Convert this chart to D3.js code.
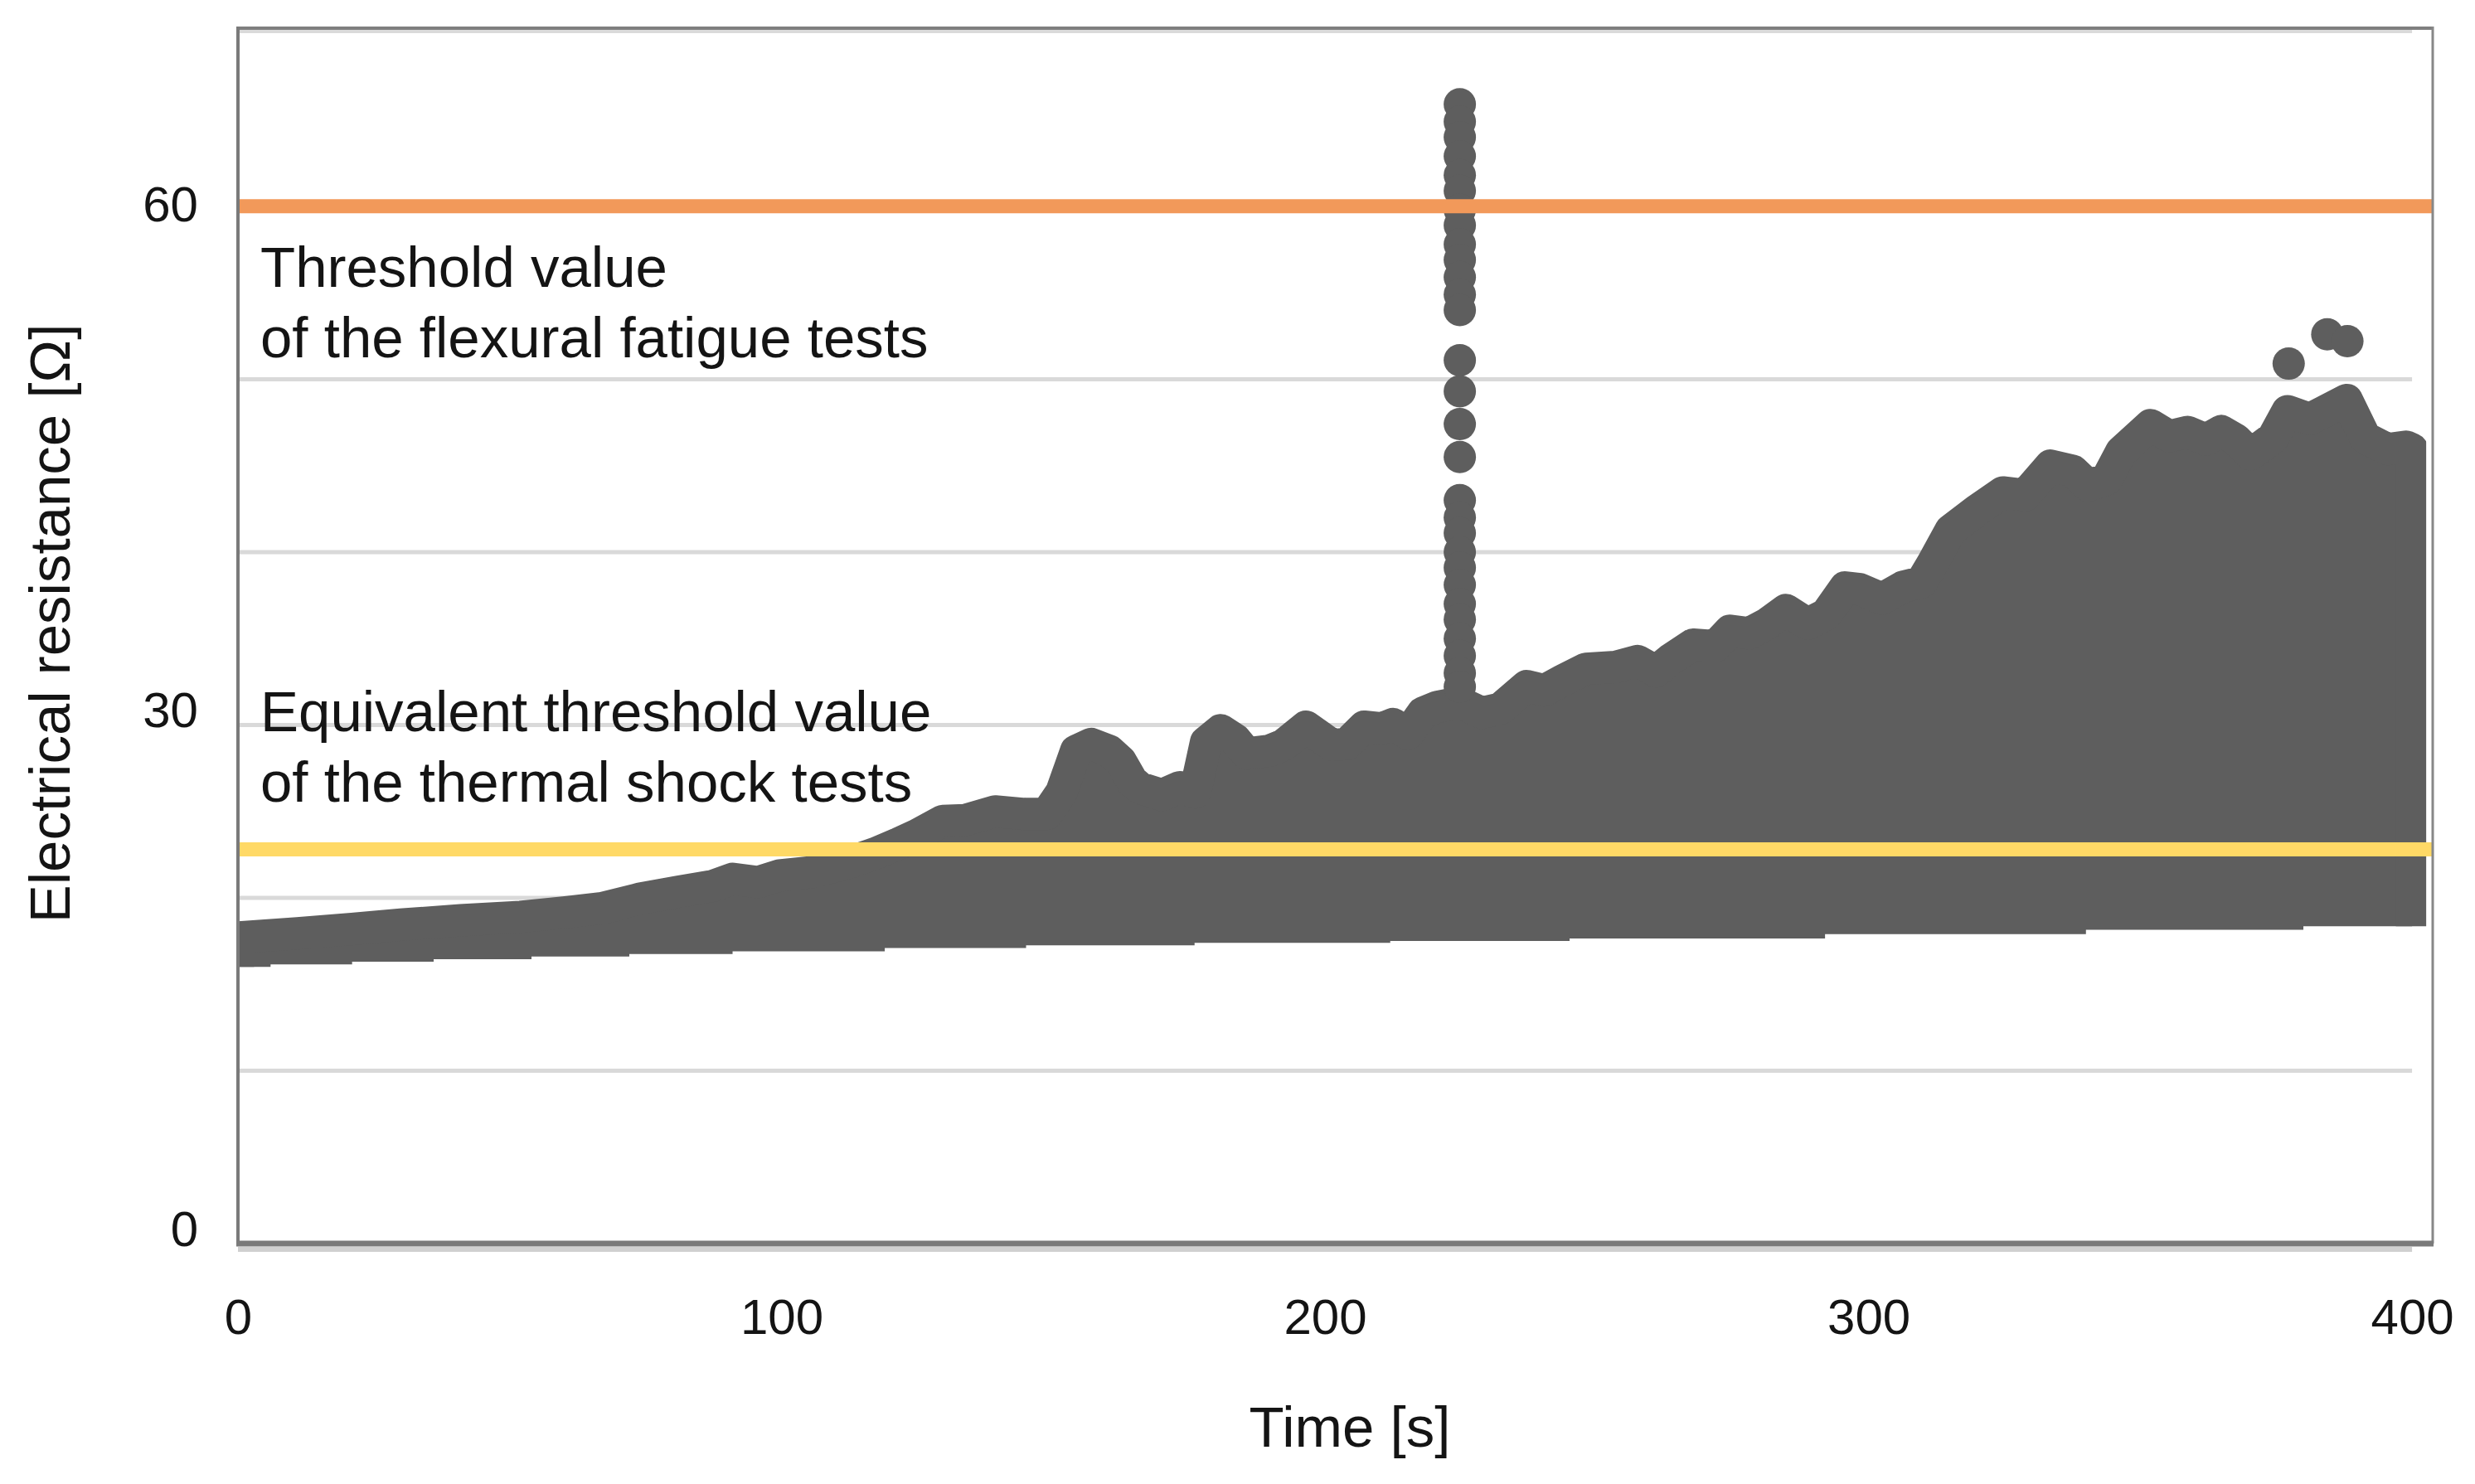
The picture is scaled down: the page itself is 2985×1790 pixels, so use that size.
<!DOCTYPE html>
<html>
<head>
<meta charset="utf-8">
<script src="https://cdn.jsdelivr.net/npm/d3@7"></script>
<style>
  body { margin: 0; background: #fff; }
  text { font-family: "Liberation Sans", Arial, sans-serif; fill: #141414; }
</style>
</head>
<body>
<svg id="chart"></svg>
<script>
const width = 2985;
const height = 1790;

const upperTime = [0, 11, 21, 30, 41, 52, 60, 67, 74, 81, 87.5, 91, 95.7, 99.7, 106, 112, 117.5, 121.6, 125, 129.7,
  133.8, 139.3, 144.7, 148.8, 151.5, 154.2, 157, 160.3, 162.4, 164.5, 166, 170, 173.3, 176.1, 178.1, 180.8, 183.5,
  185.6, 189.7, 192.4, 196.5, 199.2, 201.2, 204, 207.2, 210.5, 212.5, 215.3, 218, 220.7, 224.8, 228.9, 232.3, 237.1,
  240.4, 243.9, 248, 253.4, 257.5, 260.9, 263.6, 267.7, 271.8, 274.5, 278, 281.3, 284.8, 288.8, 292.2, 295.7, 298.4,
  302.5, 306.4, 309.7, 311.7, 315.1, 319.9, 324.7, 328.8, 333.5, 337.6, 340.4, 343.8, 346.5, 351.9, 355.3, 358.7,
  362.1, 364.9, 367.6, 370.3, 374.4, 377.1, 381.2, 388, 391.4, 395.5, 398.9, 400];
const upperRes = [17.7, 17.95, 18.2, 18.45, 18.7, 18.9, 19.15, 19.4, 19.95, 20.35, 20.7, 21.1, 20.9, 21.3, 21.5, 22.0,
  22.6, 23.15, 23.65, 24.45, 24.5, 25.0, 24.85, 24.85, 26.1, 28.5, 28.9, 28.5, 27.9, 26.75, 26.35, 25.95, 26.4, 26.1,
  29.0, 29.7, 29.15, 28.35, 28.5, 28.85, 29.9, 29.3, 28.85, 28.9, 29.9, 29.8, 30.05, 29.5, 30.7, 31.05, 31.3, 30.7,
  30.95, 32.25, 32.0, 32.6, 33.25, 33.35, 33.7, 33.1, 33.8, 34.65, 34.55, 35.45, 35.3, 35.85, 36.65, 35.85, 36.4,
  37.95, 37.85, 37.3, 38.0, 38.25, 39.3, 41.25, 42.4, 43.45, 43.3, 45.0, 44.7, 43.85, 44.2, 45.8, 47.35, 46.7, 46.95,
  46.5, 47.0, 46.5, 45.65, 46.6, 48.15, 47.7, 48.8, 46.6, 45.95, 46.1, 45.95];

// lower edge of the point cloud
const lowerTime = [0, 6, 21, 36, 54, 72, 91, 119, 145, 176, 212, 245, 292, 340, 380, 402.6];
const lowerRes = [16.0, 16.15, 16.3, 16.45, 16.6, 16.75, 16.9, 17.1, 17.25, 17.4, 17.5, 17.65, 17.9, 18.15, 18.35, 18.35];

// isolated points: the spike near 225 s and the outliers near 385 s
const spikeTime = 224.8;
const spikeRes = [65.9, 64.9, 64.0, 62.9, 61.8, 60.9, 59.8, 58.9, 57.8, 56.9, 55.9, 54.9, 54.0,
  51.1, 49.3, 47.4, 45.5,
  43.0, 42.0, 41.1, 40.0, 39.1, 38.1, 37.0, 36.1, 35.0, 34.0, 33.0, 32.2];
const outlierTime = [377.3, 384.4, 388.1];
const outlierRes = [50.9, 52.6, 52.2];

const flexuralThreshold = 60;
const thermalThreshold = 22.8;

const xTicks = [0, 100, 200, 300, 400];
const yTicks = [0, 30, 60];
const gridValues = [10, 20, 30, 40, 50, 60];

const margin = { top: 32, right: 51, bottom: 290, left: 287 };
const markerR = 19.5;
const grey = "#5e5e5e";

const svg = d3.select("#chart")
  .attr("width", width)
  .attr("height", height);

const x = d3.scaleLinear().domain([0, 403.8]).range([margin.left, width - margin.right]);
const y = d3.scaleLinear().domain([0, 70.4]).range([height - margin.bottom, margin.top]);

const upper = upperTime.map((t, i) => ({ t, v: upperRes[i] }));
const lower = lowerTime.map((t, i) => ({ t, v: lowerRes[i] }));

// gridlines
svg.append("g")
  .selectAll("line")
  .data(gridValues)
  .enter().append("line")
  .attr("x1", x(0))
  .attr("x2", x(400))
  .attr("y1", d => y(d))
  .attr("y2", d => y(d))
  .attr("stroke", "#d9d9d9")
  .attr("stroke-width", 5);

// clip paths
const defs = svg.append("defs");
defs.append("clipPath").attr("id", "plotClip")
  .append("rect")
  .attr("x", x(0)).attr("y", margin.top)
  .attr("width", x.range()[1] - x(0))
  .attr("height", y(0) - margin.top);

defs.append("clipPath").attr("id", "bandClip")
  .append("path")
  .attr("d", d3.area()
    .curve(d3.curveStepAfter)
    .x(d => x(d.t))
    .y0(d => y(d.v))
    .y1(margin.top)(lower));

// point cloud: area through the top markers, widened by the marker radius
const cloud = svg.append("g").attr("clip-path", "url(#plotClip)")
  .append("g").attr("clip-path", "url(#bandClip)");

cloud.append("path")
  .datum(upper)
  .attr("d", d3.area()
    .x(d => x(d.t))
    .y0(y(0))
    .y1(d => y(d.v)))
  .attr("fill", grey)
  .attr("stroke", grey)
  .attr("stroke-width", markerR * 2)
  .attr("stroke-linejoin", "round");

cloud.selectAll("circle.spike")
  .data(spikeRes)
  .enter().append("circle")
  .attr("class", "spike")
  .attr("cx", x(spikeTime))
  .attr("cy", d => y(d))
  .attr("r", markerR)
  .attr("fill", grey);

cloud.selectAll("circle.outlier")
  .data(outlierTime.map((t, i) => ({ t, v: outlierRes[i] })))
  .enter().append("circle")
  .attr("class", "outlier")
  .attr("cx", d => x(d.t))
  .attr("cy", d => y(d.v))
  .attr("r", markerR)
  .attr("fill", grey);

// threshold lines
svg.append("line")
  .attr("x1", x(0)).attr("x2", x.range()[1])
  .attr("y1", y(flexuralThreshold)).attr("y2", y(flexuralThreshold))
  .attr("stroke", "#f2995a")
  .attr("stroke-width", 17);

svg.append("line")
  .attr("x1", x(0)).attr("x2", x.range()[1])
  .attr("y1", y(thermalThreshold)).attr("y2", y(thermalThreshold))
  .attr("stroke", "#ffd966")
  .attr("stroke-width", 17);

// frame
const right = x.range()[1];
const bottom = y(0);
svg.append("line").attr("x1", x(0)).attr("x2", x(400)).attr("y1", margin.top + 6).attr("y2", margin.top + 6)
  .attr("stroke", "#dadada").attr("stroke-width", 4);
svg.append("line").attr("x1", x(0)).attr("x2", x(400)).attr("y1", bottom + 7).attr("y2", bottom + 7)
  .attr("stroke", "#d0d0d0").attr("stroke-width", 6);
svg.append("line").attr("x1", x(0) - 2).attr("x2", right).attr("y1", margin.top + 2).attr("y2", margin.top + 2)
  .attr("stroke", "#7f7f7f").attr("stroke-width", 4);
svg.append("line").attr("x1", right).attr("x2", right).attr("y1", margin.top).attr("y2", bottom)
  .attr("stroke", "#888").attr("stroke-width", 3);
svg.append("line").attr("x1", x(0)).attr("x2", x(0)).attr("y1", margin.top).attr("y2", bottom + 3)
  .attr("stroke", "#7a7a7a").attr("stroke-width", 4);
svg.append("line").attr("x1", x(0) - 2).attr("x2", right + 1).attr("y1", bottom).attr("y2", bottom)
  .attr("stroke", "#7a7a7a").attr("stroke-width", 7);

// axes
const xAxis = svg.append("g")
  .attr("transform", `translate(0,${bottom})`)
  .call(d3.axisBottom(x).tickValues(xTicks).tickSize(0).tickFormat(d3.format("d")));
xAxis.select(".domain").remove();
xAxis.selectAll("text")
  .attr("y", 109)
  .attr("dy", null)
  .style("font-size", "60px")
  .style("font-family", "'Liberation Sans', Arial, sans-serif")
  .attr("fill", "#141414");

const yAxis = svg.append("g")
  .attr("transform", `translate(${x(0)},0)`)
  .call(d3.axisLeft(y).tickValues(yTicks).tickSize(0).tickPadding(48).tickFormat(d3.format("d")));
yAxis.select(".domain").remove();
yAxis.selectAll("text")
  .attr("dy", d => d === 60 ? "0.3em" : "0.04em")
  .style("font-size", "60px")
  .style("font-family", "'Liberation Sans', Arial, sans-serif")
  .attr("fill", "#141414");

// axis titles
svg.append("text")
  .attr("transform", "translate(84,752) rotate(-90)")
  .attr("text-anchor", "middle")
  .style("font-size", "69px")
  .text("Electrical resistance [Ω]");

svg.append("text")
  .attr("x", 1628)
  .attr("y", 1745)
  .attr("text-anchor", "middle")
  .style("font-size", "69px")
  .text("Time [s]");

// annotations
const notes = [
  { lines: ["Threshold value", "of the flexural fatigue tests"], y: 346 },
  { lines: ["Equivalent threshold value", "of the thermal shock tests"], y: 882 }
];
notes.forEach(n => {
  n.lines.forEach((l, i) => {
    svg.append("text")
      .attr("x", 314)
      .attr("y", n.y + i * 85)
      .style("font-size", "69px")
      .text(l);
  });
});
</script>
</body>
</html>
